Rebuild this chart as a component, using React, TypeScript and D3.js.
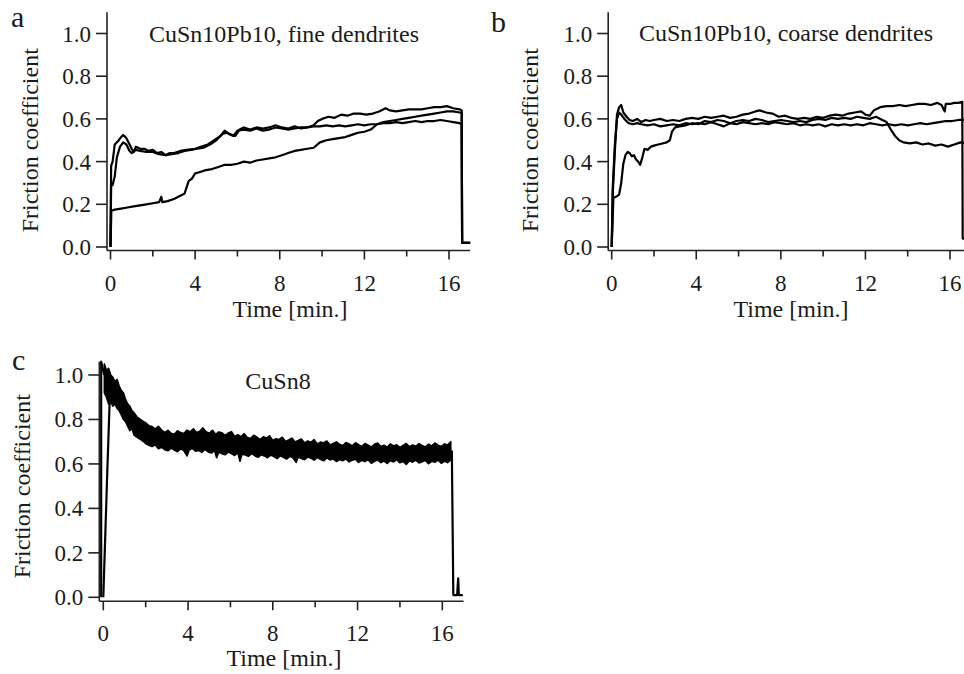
import React from "react";
import * as d3 from "d3";

type Pt = [number, number];

// axis ticks
const yTicks = [0, 0.2, 0.4, 0.6, 0.8, 1.0];
const xMajor = [0, 4, 8, 12, 16];
const xMinor = [2, 6, 10, 14];

// panel a: CuSn10Pb10, fine dendrites (time [min], friction coefficient)
const fineRun1: Pt[] = [
  [0, 0], [0.03, 0.38], [0.1, 0.4], [0.2, 0.48], [0.35, 0.495], [0.5, 0.515], [0.6, 0.525], [0.75, 0.51],
  [0.9, 0.48], [1.0, 0.46], [1.1, 0.445], [1.2, 0.47], [1.4, 0.46], [1.6, 0.46], [1.8, 0.45], [2.0, 0.455],
  [2.2, 0.44], [2.4, 0.445], [2.6, 0.43], [2.8, 0.44], [3.0, 0.44], [3.3, 0.45], [3.6, 0.455], [4.0, 0.46],
  [4.3, 0.47], [4.6, 0.48], [4.9, 0.5], [5.2, 0.52], [5.4, 0.545], [5.6, 0.53], [5.9, 0.52], [6.1, 0.55],
  [6.3, 0.56], [6.6, 0.55], [6.9, 0.56], [7.2, 0.555], [7.5, 0.56], [7.8, 0.57], [8.1, 0.56], [8.4, 0.555],
  [8.7, 0.565], [9.0, 0.555], [9.3, 0.56], [9.6, 0.57], [9.8, 0.59], [10.0, 0.6], [10.3, 0.61], [10.6, 0.605],
  [10.9, 0.62], [11.2, 0.615], [11.5, 0.625], [11.8, 0.625], [12.1, 0.62], [12.4, 0.625], [12.7, 0.635],
  [13.0, 0.65], [13.2, 0.64], [13.5, 0.635], [13.8, 0.64], [14.1, 0.645], [14.4, 0.645], [14.7, 0.645],
  [15.0, 0.65], [15.3, 0.655], [15.6, 0.655], [15.9, 0.66], [16.2, 0.65], [16.5, 0.645], [16.6, 0.64],
  [16.62, 0.02], [17.0, 0.02],
];
const fineRun2: Pt[] = [
  [0, 0], [0.03, 0.3], [0.1, 0.29], [0.2, 0.33], [0.3, 0.42], [0.45, 0.47], [0.6, 0.49], [0.75, 0.48],
  [0.9, 0.45], [1.0, 0.44], [1.2, 0.455], [1.4, 0.45], [1.7, 0.445], [2.0, 0.445], [2.3, 0.435], [2.6, 0.43],
  [2.9, 0.435], [3.2, 0.44], [3.5, 0.45], [3.8, 0.455], [4.1, 0.46], [4.4, 0.465], [4.7, 0.48], [5.0, 0.5],
  [5.3, 0.53], [5.5, 0.535], [5.8, 0.52], [6.0, 0.545], [6.3, 0.55], [6.6, 0.545], [6.9, 0.555], [7.2, 0.545],
  [7.5, 0.55], [7.8, 0.56], [8.1, 0.555], [8.4, 0.55], [8.7, 0.555], [9.0, 0.56], [9.3, 0.56], [9.6, 0.565],
  [9.9, 0.565], [10.2, 0.57], [10.5, 0.565], [10.8, 0.57], [11.1, 0.565], [11.4, 0.57], [11.7, 0.575],
  [12.0, 0.57], [12.3, 0.575], [12.6, 0.575], [12.9, 0.58], [13.2, 0.58], [13.5, 0.585], [13.8, 0.58],
  [14.1, 0.585], [14.4, 0.59], [14.7, 0.585], [15.0, 0.59], [15.3, 0.59], [15.6, 0.595], [15.9, 0.59],
  [16.2, 0.585], [16.5, 0.58], [16.6, 0.575], [16.62, 0.02], [17.0, 0.02],
];
const fineRun3: Pt[] = [
  [0, 0], [0.04, 0.17], [0.2, 0.175], [0.5, 0.18], [0.8, 0.185], [1.1, 0.19], [1.4, 0.195], [1.7, 0.2],
  [2.0, 0.205], [2.3, 0.21], [2.4, 0.235], [2.45, 0.21], [2.7, 0.215], [3.0, 0.225], [3.3, 0.24], [3.5, 0.25],
  [3.6, 0.28], [3.7, 0.31], [3.85, 0.32], [4.0, 0.345], [4.2, 0.35], [4.5, 0.36], [4.8, 0.365], [5.1, 0.375],
  [5.4, 0.385], [5.7, 0.385], [6.0, 0.39], [6.3, 0.4], [6.6, 0.395], [6.9, 0.405], [7.2, 0.41], [7.5, 0.415],
  [7.8, 0.42], [8.1, 0.43], [8.4, 0.44], [8.7, 0.45], [9.0, 0.455], [9.3, 0.46], [9.6, 0.465], [9.9, 0.49],
  [10.2, 0.5], [10.5, 0.505], [10.8, 0.51], [11.1, 0.515], [11.4, 0.525], [11.7, 0.535], [12.0, 0.54],
  [12.3, 0.55], [12.6, 0.575], [12.9, 0.585], [13.2, 0.59], [13.5, 0.595], [13.8, 0.6], [14.1, 0.605],
  [14.4, 0.61], [14.7, 0.615], [15.0, 0.62], [15.3, 0.625], [15.6, 0.63], [15.9, 0.635], [16.2, 0.635],
  [16.5, 0.63], [16.6, 0.63], [16.62, 0.02], [17.0, 0.02],
];

// panel b: CuSn10Pb10, coarse dendrites
const coarseRun1: Pt[] = [
  [0, 0], [0.05, 0.25], [0.15, 0.45], [0.25, 0.62], [0.35, 0.655], [0.45, 0.665], [0.55, 0.63], [0.7, 0.61],
  [0.85, 0.595], [1.0, 0.59], [1.2, 0.6], [1.4, 0.585], [1.6, 0.595], [1.8, 0.59], [2.0, 0.595], [2.3, 0.6],
  [2.6, 0.59], [2.9, 0.595], [3.2, 0.59], [3.5, 0.6], [3.8, 0.605], [4.1, 0.6], [4.4, 0.61], [4.7, 0.605],
  [5.0, 0.61], [5.3, 0.615], [5.6, 0.605], [5.9, 0.61], [6.2, 0.62], [6.5, 0.625], [6.8, 0.635], [7.0, 0.64],
  [7.3, 0.63], [7.6, 0.625], [7.9, 0.61], [8.2, 0.615], [8.5, 0.605], [8.8, 0.6], [9.1, 0.605], [9.4, 0.6],
  [9.7, 0.61], [10.0, 0.605], [10.3, 0.615], [10.6, 0.62], [10.9, 0.615], [11.2, 0.625], [11.5, 0.63],
  [11.8, 0.635], [12.0, 0.62], [12.2, 0.615], [12.4, 0.64], [12.7, 0.655], [13.0, 0.66], [13.3, 0.66],
  [13.6, 0.665], [13.9, 0.66], [14.2, 0.665], [14.5, 0.67], [14.8, 0.67], [15.1, 0.665], [15.4, 0.675],
  [15.6, 0.665], [15.75, 0.635], [15.8, 0.67], [16.0, 0.67], [16.2, 0.675], [16.4, 0.675], [16.58, 0.68],
  [16.6, 0.04], [17.0, 0.03],
];
const coarseRun2: Pt[] = [
  [0, 0], [0.05, 0.28], [0.15, 0.48], [0.25, 0.6], [0.35, 0.63], [0.45, 0.62], [0.6, 0.6], [0.8, 0.58],
  [1.0, 0.575], [1.2, 0.58], [1.4, 0.575], [1.7, 0.57], [2.0, 0.575], [2.3, 0.565], [2.6, 0.57], [2.9, 0.575],
  [3.2, 0.57], [3.5, 0.58], [3.8, 0.575], [4.1, 0.58], [4.4, 0.575], [4.7, 0.585], [5.0, 0.575], [5.3, 0.565],
  [5.6, 0.58], [5.9, 0.575], [6.2, 0.585], [6.5, 0.58], [6.8, 0.575], [7.1, 0.58], [7.4, 0.575], [7.7, 0.585],
  [8.0, 0.58], [8.3, 0.575], [8.6, 0.58], [8.9, 0.57], [9.2, 0.575], [9.5, 0.57], [9.8, 0.575], [10.1, 0.565],
  [10.4, 0.575], [10.7, 0.57], [11.0, 0.575], [11.3, 0.57], [11.6, 0.575], [11.9, 0.57], [12.2, 0.58],
  [12.5, 0.575], [12.8, 0.57], [13.1, 0.575], [13.4, 0.57], [13.7, 0.575], [14.0, 0.57], [14.3, 0.575],
  [14.6, 0.58], [14.9, 0.575], [15.2, 0.58], [15.5, 0.585], [15.8, 0.59], [16.1, 0.59], [16.4, 0.595],
  [16.7, 0.595], [17.0, 0.59],
];
const coarseRun3: Pt[] = [
  [0, 0], [0.08, 0.23], [0.2, 0.235], [0.35, 0.245], [0.45, 0.3], [0.55, 0.39], [0.65, 0.43], [0.75, 0.445],
  [0.85, 0.44], [0.95, 0.425], [1.05, 0.43], [1.15, 0.41], [1.25, 0.4], [1.35, 0.385], [1.45, 0.42],
  [1.55, 0.46], [1.7, 0.455], [1.85, 0.47], [2.0, 0.475], [2.2, 0.48], [2.4, 0.485], [2.6, 0.49], [2.75, 0.5],
  [2.85, 0.54], [3.0, 0.56], [3.2, 0.565], [3.5, 0.57], [3.8, 0.58], [4.1, 0.575], [4.4, 0.59], [4.7, 0.585],
  [5.0, 0.595], [5.3, 0.59], [5.6, 0.58], [5.9, 0.59], [6.2, 0.595], [6.5, 0.59], [6.8, 0.6], [7.1, 0.595],
  [7.4, 0.585], [7.7, 0.59], [8.0, 0.595], [8.3, 0.59], [8.6, 0.585], [8.9, 0.59], [9.2, 0.585], [9.5, 0.595],
  [9.8, 0.6], [10.1, 0.595], [10.4, 0.605], [10.7, 0.6], [11.0, 0.605], [11.3, 0.6], [11.6, 0.61],
  [11.9, 0.605], [12.2, 0.6], [12.5, 0.61], [12.8, 0.595], [13.0, 0.585], [13.2, 0.55], [13.4, 0.52],
  [13.6, 0.5], [13.8, 0.49], [14.1, 0.485], [14.4, 0.49], [14.7, 0.48], [15.0, 0.485], [15.3, 0.475],
  [15.6, 0.48], [15.9, 0.47], [16.2, 0.48], [16.5, 0.49], [16.8, 0.485], [17.0, 0.48],
];

// panel c: CuSn8 — noisy trace, kept as its upper and lower envelope
const cuSn8Upper: Pt[] = [
  [0.05, 1.05], [0.15, 1.02], [0.25, 1.03], [0.35, 1.0], [0.45, 0.99], [0.55, 0.97], [0.65, 0.98], [0.75, 0.95],
  [0.85, 0.93], [0.95, 0.92], [1.05, 0.89], [1.15, 0.87], [1.25, 0.86], [1.35, 0.84], [1.45, 0.83], [1.6, 0.81],
  [1.75, 0.8], [1.9, 0.79],
  [2.0, 0.785], [2.15, 0.772], [2.3, 0.768], [2.45, 0.758], [2.6, 0.769], [2.75, 0.752], [2.9, 0.742],
  [3.05, 0.751], [3.2, 0.738], [3.35, 0.733], [3.5, 0.749], [3.65, 0.741], [3.8, 0.737], [3.95, 0.752],
  [4.1, 0.744], [4.25, 0.758], [4.4, 0.741], [4.55, 0.747], [4.7, 0.762], [4.85, 0.745], [5.0, 0.738],
  [5.15, 0.751], [5.3, 0.733], [5.45, 0.744], [5.6, 0.74], [5.75, 0.728], [5.9, 0.739], [6.05, 0.745],
  [6.2, 0.724], [6.35, 0.731], [6.5, 0.722], [6.65, 0.736], [6.8, 0.719], [6.95, 0.714], [7.1, 0.729],
  [7.25, 0.72], [7.4, 0.709], [7.55, 0.722], [7.7, 0.716], [7.85, 0.726], [8.0, 0.706], [8.15, 0.713],
  [8.3, 0.71], [8.45, 0.72], [8.6, 0.701], [8.75, 0.708], [8.9, 0.716], [9.05, 0.699], [9.2, 0.705],
  [9.35, 0.712], [9.5, 0.694], [9.65, 0.703], [9.8, 0.697], [9.95, 0.709], [10.1, 0.69], [10.25, 0.698],
  [10.4, 0.694], [10.55, 0.703], [10.7, 0.685], [10.85, 0.692], [11.0, 0.699], [11.15, 0.688], [11.3, 0.683],
  [11.45, 0.696], [11.6, 0.69], [11.75, 0.681], [11.9, 0.695], [12.05, 0.686], [12.2, 0.679], [12.35, 0.692],
  [12.5, 0.684], [12.65, 0.676], [12.8, 0.689], [12.95, 0.694], [13.1, 0.678], [13.25, 0.684], [13.4, 0.675],
  [13.55, 0.69], [13.7, 0.681], [13.85, 0.686], [14.0, 0.674], [14.15, 0.683], [14.3, 0.692], [14.45, 0.677],
  [14.6, 0.685], [14.75, 0.679], [14.9, 0.691], [15.05, 0.683], [15.2, 0.676], [15.35, 0.689], [15.5, 0.681],
  [15.65, 0.694], [15.8, 0.684], [15.95, 0.678], [16.1, 0.69], [16.25, 0.685], [16.4, 0.7],
];
const cuSn8Lower: Pt[] = [
  [0.05, 0.92], [0.15, 0.9], [0.25, 0.87], [0.35, 0.88], [0.45, 0.86], [0.55, 0.87], [0.65, 0.85], [0.75, 0.84],
  [0.85, 0.82], [0.95, 0.8], [1.05, 0.79], [1.15, 0.77], [1.25, 0.75], [1.35, 0.76], [1.45, 0.73], [1.6, 0.72],
  [1.75, 0.71], [1.9, 0.7],
  [2.0, 0.692], [2.15, 0.684], [2.3, 0.678], [2.45, 0.686], [2.6, 0.668], [2.75, 0.675], [2.9, 0.664],
  [3.05, 0.659], [3.2, 0.671], [3.35, 0.662], [3.5, 0.655], [3.65, 0.668], [3.8, 0.66], [3.95, 0.636],
  [4.05, 0.662], [4.2, 0.67], [4.35, 0.657], [4.5, 0.661], [4.65, 0.652], [4.8, 0.665], [4.95, 0.654],
  [5.1, 0.649], [5.25, 0.66], [5.35, 0.628], [5.45, 0.653], [5.6, 0.646], [5.75, 0.641], [5.9, 0.654],
  [6.05, 0.647], [6.2, 0.638], [6.35, 0.651], [6.45, 0.612], [6.55, 0.645], [6.7, 0.64], [6.85, 0.634],
  [7.0, 0.646], [7.15, 0.637], [7.3, 0.63], [7.45, 0.641], [7.6, 0.636], [7.75, 0.628], [7.9, 0.64],
  [8.05, 0.633], [8.2, 0.624], [8.35, 0.637], [8.5, 0.63], [8.65, 0.622], [8.8, 0.634], [8.95, 0.628],
  [9.1, 0.607], [9.2, 0.631], [9.35, 0.624], [9.5, 0.619], [9.65, 0.632], [9.8, 0.626], [9.95, 0.617],
  [10.1, 0.629], [10.25, 0.621], [10.4, 0.614], [10.55, 0.627], [10.7, 0.618], [10.85, 0.623], [11.0, 0.611],
  [11.15, 0.62], [11.3, 0.614], [11.45, 0.623], [11.6, 0.609], [11.75, 0.617], [11.9, 0.621], [12.05, 0.607],
  [12.2, 0.616], [12.35, 0.61], [12.5, 0.619], [12.65, 0.603], [12.8, 0.612], [12.95, 0.618], [13.1, 0.606],
  [13.25, 0.613], [13.4, 0.602], [13.55, 0.615], [13.7, 0.609], [13.85, 0.619], [14.0, 0.605], [14.15, 0.611],
  [14.3, 0.598], [14.45, 0.614], [14.6, 0.608], [14.75, 0.617], [14.9, 0.604], [15.05, 0.61], [15.2, 0.616],
  [15.35, 0.601], [15.5, 0.612], [15.65, 0.607], [15.8, 0.618], [15.95, 0.603], [16.1, 0.612], [16.25, 0.606],
  [16.4, 0.618],
];
const cuSn8Start: Pt[] = [[-0.1, 0], [-0.1, 1.06], [0.05, 1.0]];
const cuSn8Rise: Pt[] = [[0, 0], [0.1, 0.3], [0.2, 0.6], [0.3, 0.88]];
const cuSn8Tail: Pt[] = [
  [16.45, 0.66], [16.52, 0.01], [16.7, 0.01], [16.75, 0.085], [16.78, 0.01], [16.97, 0.01],
];

const FONT = "'Liberation Serif', 'Times New Roman', serif";

interface Layout {
  x0: number; x16: number; y0: number; y1: number;
  axisGap: number; yMax: number; tMax: number;
  letter: string; letterX: number; letterY: number;
  title: string; titleX: number; titleY: number;
  yLabelX: number; xLabelX: number; xLabelY: number;
}

const Panel = ({ L, lines, band }: { L: Layout; lines: Pt[][]; band?: [Pt[], Pt[]] }) => {
  const x = d3.scaleLinear().domain([0, 16]).range([L.x0, L.x16]);
  const y = d3.scaleLinear().domain([0, 1]).range([L.y0, L.y1]);
  const line = d3.line<Pt>().x((d) => x(d[0])).y((d) => y(d[1]));

  const axX = x(0) - L.axisGap; // y-axis position
  const axY = y(0) + L.axisGap; // x-axis position
  const yLabelMid = (y(0) + y(1)) / 2;

  return (
    <g fontFamily={FONT} fill="#1a1a1a">
      {band && (
        <path
          d={line(band[0].concat(band[1].slice().reverse())) + "Z"}
          fill="#000"
          stroke="#000"
          strokeWidth={1.6}
          strokeLinejoin="round"
        />
      )}
      {lines.map((s, i) => (
        <path key={i} d={line(s) || ""} fill="none" stroke="#000" strokeWidth={2.2} strokeLinejoin="round" />
      ))}

      {/* axes */}
      <line x1={axX} x2={axX} y1={y(L.yMax)} y2={axY} stroke="#222" strokeWidth={1.6} />
      <line x1={axX} x2={x(L.tMax)} y1={axY} y2={axY} stroke="#222" strokeWidth={1.6} />
      {yTicks.map((v) => (
        <g key={v}>
          <line x1={axX - 11} x2={axX} y1={y(v)} y2={y(v)} stroke="#222" strokeWidth={1.6} />
          <text x={axX - 16} y={y(v) + 8} textAnchor="end" fontSize={23}>
            {d3.format(".1f")(v)}
          </text>
        </g>
      ))}
      {xMajor.map((t) => (
        <g key={t}>
          <line x1={x(t)} x2={x(t)} y1={axY} y2={axY + 9} stroke="#222" strokeWidth={1.6} />
          <text x={x(t)} y={axY + 40} textAnchor="middle" fontSize={23}>
            {t}
          </text>
        </g>
      ))}
      {xMinor.map((t) => (
        <line key={t} x1={x(t)} x2={x(t)} y1={axY} y2={axY + 6} stroke="#222" strokeWidth={1.6} />
      ))}

      {/* labels */}
      <text x={L.letterX} y={L.letterY} fontSize={30}>{L.letter}</text>
      <text x={L.titleX} y={L.titleY} textAnchor="middle" fontSize={24}>{L.title}</text>
      <text
        transform={`translate(${L.yLabelX},${yLabelMid}) rotate(-90)`}
        textAnchor="middle"
        fontSize={24}
      >
        Friction coefficient
      </text>
      <text x={L.xLabelX} y={L.xLabelY} textAnchor="middle" fontSize={24}>Time [min.]</text>
    </g>
  );
};

const layoutA: Layout = {
  x0: 110.5, x16: 449, y0: 247, y1: 33.5, axisGap: 3.5, yMax: 1.1, tMax: 17.0,
  letter: "a", letterX: 11, letterY: 27,
  title: "CuSn10Pb10, fine dendrites", titleX: 284, titleY: 41.5,
  yLabelX: 38, xLabelX: 290, xLabelY: 317,
};
const layoutB: Layout = {
  x0: 611.7, x16: 950, y0: 247, y1: 33.5, axisGap: 3.5, yMax: 1.1, tMax: 17.5,
  letter: "b", letterX: 491, letterY: 32,
  title: "CuSn10Pb10, coarse dendrites", titleX: 786, titleY: 41,
  yLabelX: 538, xLabelX: 791, xLabelY: 317,
};
const layoutC: Layout = {
  x0: 103.3, x16: 442.3, y0: 597.3, y1: 375, axisGap: 4, yMax: 1.06, tMax: 17.0,
  letter: "c", letterX: 12, letterY: 370,
  title: "CuSn8", titleX: 278, titleY: 389,
  yLabelX: 30, xLabelX: 284, xLabelY: 666,
};

export default function App() {
  return (
    <svg
      width={964}
      height={674}
      style={{ position: "absolute", left: 0, top: 0, background: "#fff", display: "block" }}
    >
      <rect width={964} height={674} fill="#fff" />
      <Panel L={layoutA} lines={[fineRun1, fineRun2, fineRun3]} />
      <Panel L={layoutB} lines={[coarseRun1, coarseRun2, coarseRun3]} />
      <Panel L={layoutC} lines={[cuSn8Start, cuSn8Rise, cuSn8Tail]} band={[cuSn8Upper, cuSn8Lower]} />
    </svg>
  );
}
